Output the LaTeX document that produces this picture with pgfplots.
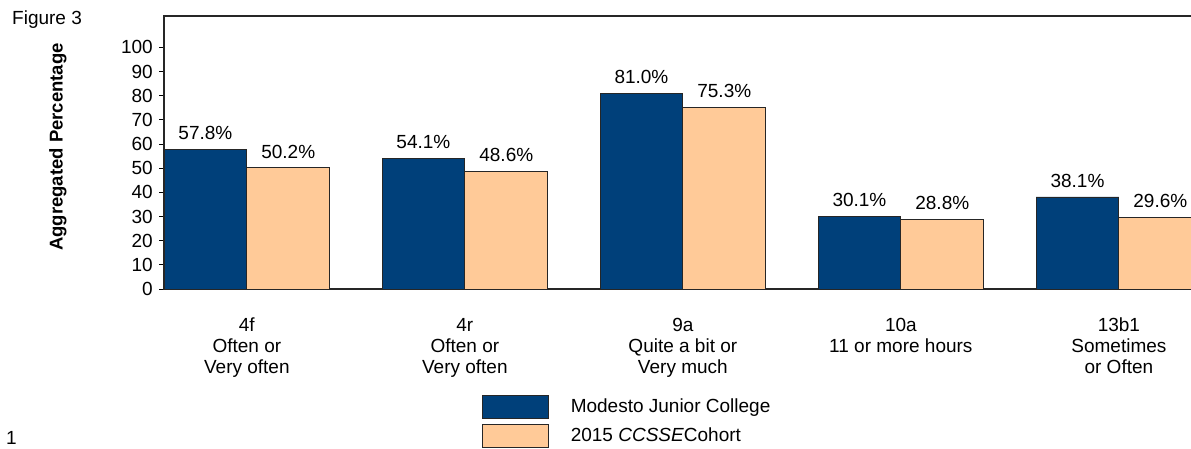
\documentclass[border=0pt]{standalone}
\usepackage{pgfplots}
\pgfplotsset{compat=1.18}
\usepackage{fontspec}
\setmainfont{Liberation Sans}

\definecolor{mjcblue}{RGB}{0,64,122}
\definecolor{cohort}{RGB}{255,202,152}

\begin{document}
\fontsize{19bp}{21bp}\selectfont
\begin{tikzpicture}
\path[use as bounding box] (0,0) rectangle (1191bp,449bp);
\node[anchor=west, inner sep=0pt] at (12bp,429bp) {Figure 3};
\node[anchor=west, inner sep=0pt] at (6bp,11bp) {1};
\node[rotate=90, inner sep=0pt, font=\fontsize{18.5bp}{21bp}\selectfont\bfseries] at (58bp,302bp) {Aggregated Percentage};

\begin{axis}[
    at={(164bp,160bp)}, anchor=south west,
    scale only axis,
    width=1029bp, height=273bp,
    ybar=0pt, bar width=0.38,
    xmin=-0.38, xmax=4.34,
    ymin=0, ymax=113,
    ytick={0,10,...,100},
    ytick pos=left,
    tick align=outside,
    major tick length=5bp,
    tick style={black, line width=1bp},
    xtick={0,...,4},
    xtick style={draw=none},
    xticklabels={{4f\\Often or\\Very often},{4r\\Often or\\Very often},{9a\\Quite a bit or\\Very much},{10a\\11 or more hours},{13b1\\Sometimes\\or Often}},
    xticklabel style={align=center, inner sep=0pt, yshift=-24bp},
    yticklabel style={inner sep=0pt, xshift=-6bp},
    /pgf/number format/assume math mode=true,
    axis line style={black!85, line width=1.5bp},
    nodes near coords={\pgfmathprintnumber[fixed,fixed zerofill,precision=1]{\pgfplotspointmeta}\%},
    every node near coord/.append style={inner sep=0pt, yshift=9bp, black},
    legend style={draw=none, fill=none, at={(axis description cs:0.309,-0.388)}, anchor=north west,
        inner sep=0pt, outer sep=0pt, row sep=5bp, column sep=22bp,
        nodes={inner sep=0pt, anchor=west}},
    legend cell align=left,
]

\addplot[bar shift=-0.19, fill=mjcblue, draw=black!85, line width=0.8bp, forget plot]
    coordinates {(0,57.8) (1,54.1) (2,81.0) (3,30.1) (4,38.1)};
\addplot[bar shift=0.19, fill=cohort, draw=black!85, line width=0.8bp, forget plot]
    coordinates {(0,50.2) (1,48.6) (2,75.3) (3,28.8) (4,29.6)};

\addlegendimage{legend image code/.code={\draw[fill=mjcblue, draw=black!85, line width=0.8bp] (0bp,-11.5bp) rectangle (66bp,11.5bp);}}
\addlegendentry{Modesto Junior College}
\addlegendimage{legend image code/.code={\draw[fill=cohort, draw=black!85, line width=0.8bp] (0bp,-11.5bp) rectangle (66bp,11.5bp);}}
\addlegendentry{2015 \textit{CCSSE}Cohort}
\end{axis}
\end{tikzpicture}
\end{document}
